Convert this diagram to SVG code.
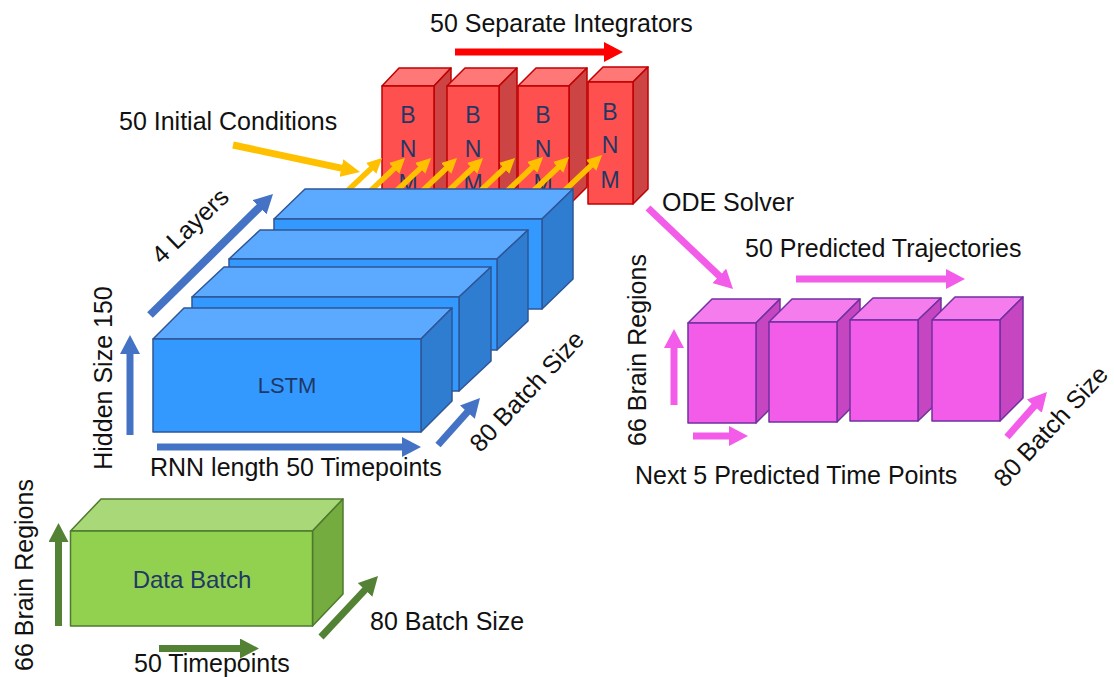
<svg xmlns="http://www.w3.org/2000/svg" width="1114" height="677" viewBox="0 0 1114 677">
  <style>
    .lbl { font-family: "Liberation Sans", Arial, sans-serif; font-size: 25px; fill: #111111; }
    .inner { font-family: "Liberation Sans", Arial, sans-serif; fill: #1F3864; text-anchor: middle; }
    .red .front { fill: #FF5050; } .red .top { fill: #FF7878; } .red .side { fill: #CC4444; }
    .red polygon, .red rect { stroke: #C00000; stroke-width: 1.5; stroke-linejoin: round; }
    .blue .front { fill: #3399FF; } .blue .top { fill: #5CAAFF; } .blue .side { fill: #2E7DD1; }
    .blue polygon, .blue rect { stroke: #2F5597; stroke-width: 1.5; stroke-linejoin: round; }
    .green .front { fill: #92D050; } .green .top { fill: #A9D879; } .green .side { fill: #75AC40; }
    .green polygon, .green rect { stroke: #4E7A2E; stroke-width: 1.5; stroke-linejoin: round; }
    .mag .front { fill: #F25CE8; } .mag .top { fill: #F57CEC; } .mag .side { fill: #C645C0; }
    .mag polygon, .mag rect { stroke: #7030A0; stroke-width: 1.5; stroke-linejoin: round; }
    .ar { fill: none; stroke-linecap: butt; }
    .ar-blue { stroke: #4472C4; stroke-width: 7; marker-end: url(#hd-blue); }
    .ar-green { stroke: #548235; stroke-width: 7; marker-end: url(#hd-green); }
    .ar-red { stroke: #FF0000; stroke-width: 7; marker-end: url(#hd-red); }
    .ar-mag { stroke: #F25CE8; stroke-width: 7; marker-end: url(#hd-mag); }
    .ar-yel { stroke: #FFC000; stroke-width: 7; marker-end: url(#hd-yel); }
    .ar-yel-s { stroke: #FFC000; stroke-width: 5.5; marker-end: url(#hd-yel-s); }
  </style>
  <defs>
    <marker id="hd-blue" markerUnits="userSpaceOnUse" markerWidth="19" markerHeight="20" refX="1" refY="10" orient="auto"><path d="M0,0 L19,10 L0,20 z" fill="#4472C4"/></marker>
    <marker id="hd-green" markerUnits="userSpaceOnUse" markerWidth="19" markerHeight="20" refX="1" refY="10" orient="auto"><path d="M0,0 L19,10 L0,20 z" fill="#548235"/></marker>
    <marker id="hd-red" markerUnits="userSpaceOnUse" markerWidth="19" markerHeight="20" refX="1" refY="10" orient="auto"><path d="M0,0 L19,10 L0,20 z" fill="#FF0000"/></marker>
    <marker id="hd-mag" markerUnits="userSpaceOnUse" markerWidth="19" markerHeight="20" refX="1" refY="10" orient="auto"><path d="M0,0 L19,10 L0,20 z" fill="#F25CE8"/></marker>
    <marker id="hd-yel" markerUnits="userSpaceOnUse" markerWidth="19" markerHeight="18" refX="1" refY="9" orient="auto"><path d="M0,0 L19,9 L0,18 z" fill="#FFC000"/></marker>
    <marker id="hd-yel-s" markerUnits="userSpaceOnUse" markerWidth="15" markerHeight="15" refX="1" refY="7.5" orient="auto"><path d="M0,0 L15,7.5 L0,15 z" fill="#FFC000"/></marker>
  </defs>

  <rect width="1114" height="677" fill="#FFFFFF"/>

  <!-- BNM integrator blocks -->
  <g id="bnm-1" class="red">
    <polygon class="top" points="382,86 399,68 451,68 434,86"/>
    <polygon class="side" points="434,86 451,68 451,187 434,205"/>
    <rect class="front" x="382" y="86" width="52" height="119"/>
    <text class="inner" font-size="23" x="408" y="123">B</text>
    <text class="inner" font-size="23" x="408" y="157">N</text>
    <text class="inner" font-size="23" x="408" y="191">M</text>
  </g>
  <g id="bnm-2" class="red">
    <polygon class="top" points="447,86 465,68 517,68 499,86"/>
    <polygon class="side" points="499,86 517,68 517,187 499,205"/>
    <rect class="front" x="447" y="86" width="52" height="119"/>
    <text class="inner" font-size="23" x="473" y="123">B</text>
    <text class="inner" font-size="23" x="473" y="157">N</text>
    <text class="inner" font-size="23" x="473" y="191">M</text>
  </g>
  <g id="bnm-3" class="red">
    <polygon class="top" points="518,86 536,68 587,68 569,86"/>
    <polygon class="side" points="569,86 587,68 587,187 569,205"/>
    <rect class="front" x="518" y="86" width="51" height="119"/>
    <text class="inner" font-size="23" x="543" y="123">B</text>
    <text class="inner" font-size="23" x="543" y="157">N</text>
    <text class="inner" font-size="23" x="543" y="191">M</text>
  </g>
  <g id="bnm-4" class="red">
    <polygon class="top" points="588,82 603,67 648,67 633,82"/>
    <polygon class="side" points="633,82 648,67 648,189 633,204"/>
    <rect class="front" x="588" y="82" width="45" height="122"/>
    <text class="inner" font-size="23" x="610" y="120">B</text>
    <text class="inner" font-size="23" x="610" y="153">N</text>
    <text class="inner" font-size="23" x="610" y="188">M</text>
  </g>

  <!-- dimension and flow arrows -->
  <g id="connectors">
    <line class="ar ar-red" x1="455" y1="52" x2="605" y2="52"/>
    <line class="ar ar-yel" x1="233" y1="145" x2="342.4" y2="168.3"/>
    <line class="ar ar-yel-s" x1="342" y1="196" x2="371.9" y2="167.7"/>
    <line class="ar ar-yel-s" x1="365" y1="196" x2="394.9" y2="167.7"/>
    <line class="ar ar-yel-s" x1="391" y1="196" x2="420.9" y2="167.7"/>
    <line class="ar ar-yel-s" x1="417" y1="196" x2="446.9" y2="167.7"/>
    <line class="ar ar-yel-s" x1="443" y1="196" x2="472.9" y2="167.7"/>
    <line class="ar ar-yel-s" x1="475" y1="196" x2="504.9" y2="167.7"/>
    <line class="ar ar-yel-s" x1="503" y1="195" x2="532.9" y2="166.7"/>
    <line class="ar ar-yel-s" x1="529" y1="195" x2="558.9" y2="166.7"/>
    <line class="ar ar-yel-s" x1="562" y1="193" x2="591.9" y2="164.7"/>

    <line class="ar ar-blue" style="stroke-width:8" x1="150" y1="315" x2="260.2" y2="206.6"/>
    <line class="ar ar-blue" x1="130" y1="435" x2="130" y2="353"/>
    <line class="ar ar-blue" x1="157" y1="447" x2="403" y2="447"/>
    <line class="ar ar-blue" x1="438" y1="445" x2="468" y2="411.4"/>

    <line class="ar ar-green" x1="58.5" y1="626" x2="58.5" y2="541"/>
    <line class="ar ar-green" x1="159" y1="648.5" x2="241" y2="648.5"/>
    <line class="ar ar-green" x1="321" y1="637" x2="365.7" y2="589.2"/>

    <line class="ar ar-mag" x1="648" y1="208" x2="720" y2="276.6"/>
    <line class="ar ar-mag" x1="796" y1="279" x2="947" y2="279"/>
    <line class="ar ar-mag" x1="674" y1="405" x2="674" y2="347"/>
    <line class="ar ar-mag" x1="693" y1="436" x2="730" y2="436"/>
    <line class="ar ar-mag" x1="1007" y1="437" x2="1035" y2="405.4"/>
  </g>

  <!-- LSTM layer stack, back to front -->
  <g id="lstm-4" class="blue">
    <polygon class="top" points="274,219 305,189 573,189 542,219"/>
    <polygon class="side" points="542,219 573,189 573,279 542,309"/>
    <rect class="front" x="274" y="219" width="268" height="90"/>
  </g>
  <g id="lstm-3" class="blue">
    <polygon class="top" points="229,259 260,230 528,230 497,259"/>
    <polygon class="side" points="497,259 528,230 528,321 497,350"/>
    <rect class="front" x="229" y="259" width="268" height="91"/>
  </g>
  <g id="lstm-2" class="blue">
    <polygon class="top" points="192,297 224,267 491,267 459,297"/>
    <polygon class="side" points="459,297 491,267 491,361 459,391"/>
    <rect class="front" x="192" y="297" width="267" height="94"/>
  </g>
  <g id="lstm-1" class="blue">
    <polygon class="top" points="153,339 184,308 452,308 421,339"/>
    <polygon class="side" points="421,339 452,308 452,401 421,432"/>
    <rect class="front" x="153" y="339" width="268" height="93"/>
    <text class="inner" font-size="22" x="287" y="393">LSTM</text>
  </g>

  <!-- input data batch -->
  <g id="data-batch" class="green">
    <polygon class="top" points="70.5,531 101,499 343,499 312.5,531"/>
    <polygon class="side" points="312.5,531 343,499 343,594 312.5,626"/>
    <rect class="front" x="70.5" y="531" width="242" height="95"/>
    <text class="inner" font-size="24" x="192" y="588">Data Batch</text>
  </g>

  <!-- predicted trajectories -->
  <g id="traj-1" class="mag">
    <polygon class="top" points="688,323 712,299 780,299 756,323"/>
    <polygon class="side" points="756,323 780,299 780,399 756,423"/>
    <rect class="front" x="688" y="323" width="68" height="100"/>
  </g>
  <g id="traj-2" class="mag">
    <polygon class="top" points="769,322 792,299 860,299 837,322"/>
    <polygon class="side" points="837,322 860,299 860,399 837,422"/>
    <rect class="front" x="769" y="322" width="68" height="100"/>
  </g>
  <g id="traj-3" class="mag">
    <polygon class="top" points="850,320 873,298 941,298 918,320"/>
    <polygon class="side" points="918,320 941,298 941,399 918,421"/>
    <rect class="front" x="850" y="320" width="68" height="101"/>
  </g>
  <g id="traj-4" class="mag">
    <polygon class="top" points="932,320 955,297 1023,297 1000,320"/>
    <polygon class="side" points="1000,320 1023,297 1023,398 1000,421"/>
    <rect class="front" x="932" y="320" width="68" height="101"/>
  </g>

  <!-- labels -->
  <g id="labels">
    <text class="lbl" x="430" y="32">50 Separate Integrators</text>
    <text class="lbl" x="119" y="130">50 Initial Conditions</text>
    <text class="lbl" x="662" y="211">ODE Solver</text>
    <text class="lbl" x="745" y="257">50 Predicted Trajectories</text>
    <text class="lbl" x="635" y="484">Next 5 Predicted Time Points</text>
    <text class="lbl" x="150" y="476">RNN length 50 Timepoints</text>
    <text class="lbl" x="134" y="672">50 Timepoints</text>
    <text class="lbl" x="370" y="630" font-size="24">80 Batch Size</text>
    <text class="lbl" text-anchor="middle" font-size="24" transform="translate(112,378) rotate(-90)">Hidden Size 150</text>
    <text class="lbl" text-anchor="middle" transform="translate(33,575) rotate(-90)">66 Brain Regions</text>
    <text class="lbl" text-anchor="middle" transform="translate(646,350) rotate(-90)">66 Brain Regions</text>
    <text class="lbl" text-anchor="middle" font-size="24" transform="translate(196,232) rotate(-44)">4 Layers</text>
    <text class="lbl" text-anchor="middle" font-size="24" transform="translate(533,397) rotate(-47)">80 Batch Size</text>
    <text class="lbl" text-anchor="middle" font-size="23" transform="translate(1057,432) rotate(-47)">80 Batch Size</text>
  </g>
</svg>
